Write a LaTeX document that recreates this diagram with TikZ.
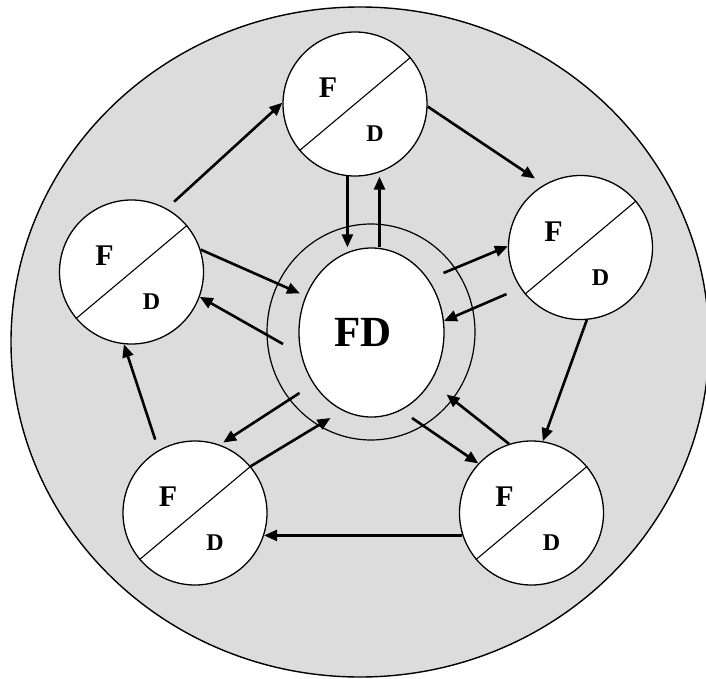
\documentclass[tikz,border=0pt]{standalone}
\usepackage{fontspec}
\setmainfont{Liberation Serif}
\usetikzlibrary{arrows.meta,shapes.geometric,calc}
\definecolor{bgray}{RGB}{220,220,220}
\begin{document}
\begin{tikzpicture}[x=1pt,y=-1pt,
  sat/.style={circle,draw,fill=white,minimum size=144pt,inner sep=0pt,line width=1.3pt},
  diag/.style={line width=1.1pt},
  arr/.style={line width=2.6pt,-{Triangle[length=13pt,width=11pt]}},
  ftxt/.style={font=\fontsize{30}{30}\selectfont\bfseries,inner sep=0pt},
  dtxt/.style={font=\fontsize{24}{24}\selectfont\bfseries,inner sep=0pt},
]
\fill[white] (0,0) rectangle (706,679);
\useasboundingbox (0,0) rectangle (706,679);
% background disc
\draw[line width=1.4pt,fill=bgray] (360,342) ellipse [x radius=349pt, y radius=335pt];

% centre
\node[ellipse,draw,line width=1.2pt,minimum width=208pt,minimum height=216pt,inner sep=0pt] (ring) at (371,332) {};
\node[ellipse,draw,fill=white,line width=1.3pt,minimum width=145pt,minimum height=169pt,inner sep=0pt] (FD) at (371.5,332.5) {};
\node[inner sep=0pt,font=\fontsize{43}{43}\selectfont\bfseries] (FDt) at (363,332) {FD};

% satellites
\node[sat] (T)  at (355,104) {};
\node[sat] (L)  at (131.5,272) {};
\node[sat] (R)  at (580.5,247.5) {};
\node[sat] (BL) at (195,513) {};
\node[sat] (BR) at (531.5,513) {};
\foreach \n in {T,L,R,BL,BR}{
  \draw[diag] (\n.220) -- (\n.40);
  \node[ftxt] (\n-f) at ($(\n)+(-27,-16)$) {F};
  \node[dtxt] (\n-d) at ($(\n)+(20,30)$) {D};
}

% free ends inside the ring
\coordinate (cd) at ($(FD)+(-88.5,11.5)$);
\coordinate (ce) at ($(FD)+(72,-59.5)$);
\coordinate (cg) at ($(FD)+(40.5,85.5)$);
\coordinate (ch) at ($(FD)+(75,62)$);
\coordinate (ci) at ($(FD)+(-72,60.5)$);
\coordinate (cj) at ($(FD)+(-41,85.5)$);

% outer cycle
\draw[arr,shorten <=10pt] (L.61) -- (T.179);
\draw[arr,shorten >=11pt] (T.-2) -- (R.120);
\draw[arr] (R.-85) -- (BR.81);
\draw[arr] (BR.198) -- (BL.-18);
\draw[arr,shorten <=11pt] (BL.120) -- (L.-96);

% to and from the centre
\draw[arr] (T.-96) -- (T.-96 |- FD.north);
\draw[arr] ([xshift=8pt]FD.north) -- ([xshift=8pt]FD.north |- T.south);
\draw[arr,shorten >=6pt] (L.18) -- (FD.151);
\draw[arr] (cd) -- (L.-20);
\draw[arr] (ce) -- (R.179);
\draw[arr,shorten <=15pt] (R.-146) -- (FD.9);
\draw[arr] (cg) -- (BR.137);
\draw[arr] (BR.108) -- (ch);
\draw[arr,shorten >=4pt] (ci) -- (BL.70);
\draw[arr] (BL.40) -- (cj);
\end{tikzpicture}
\end{document}
